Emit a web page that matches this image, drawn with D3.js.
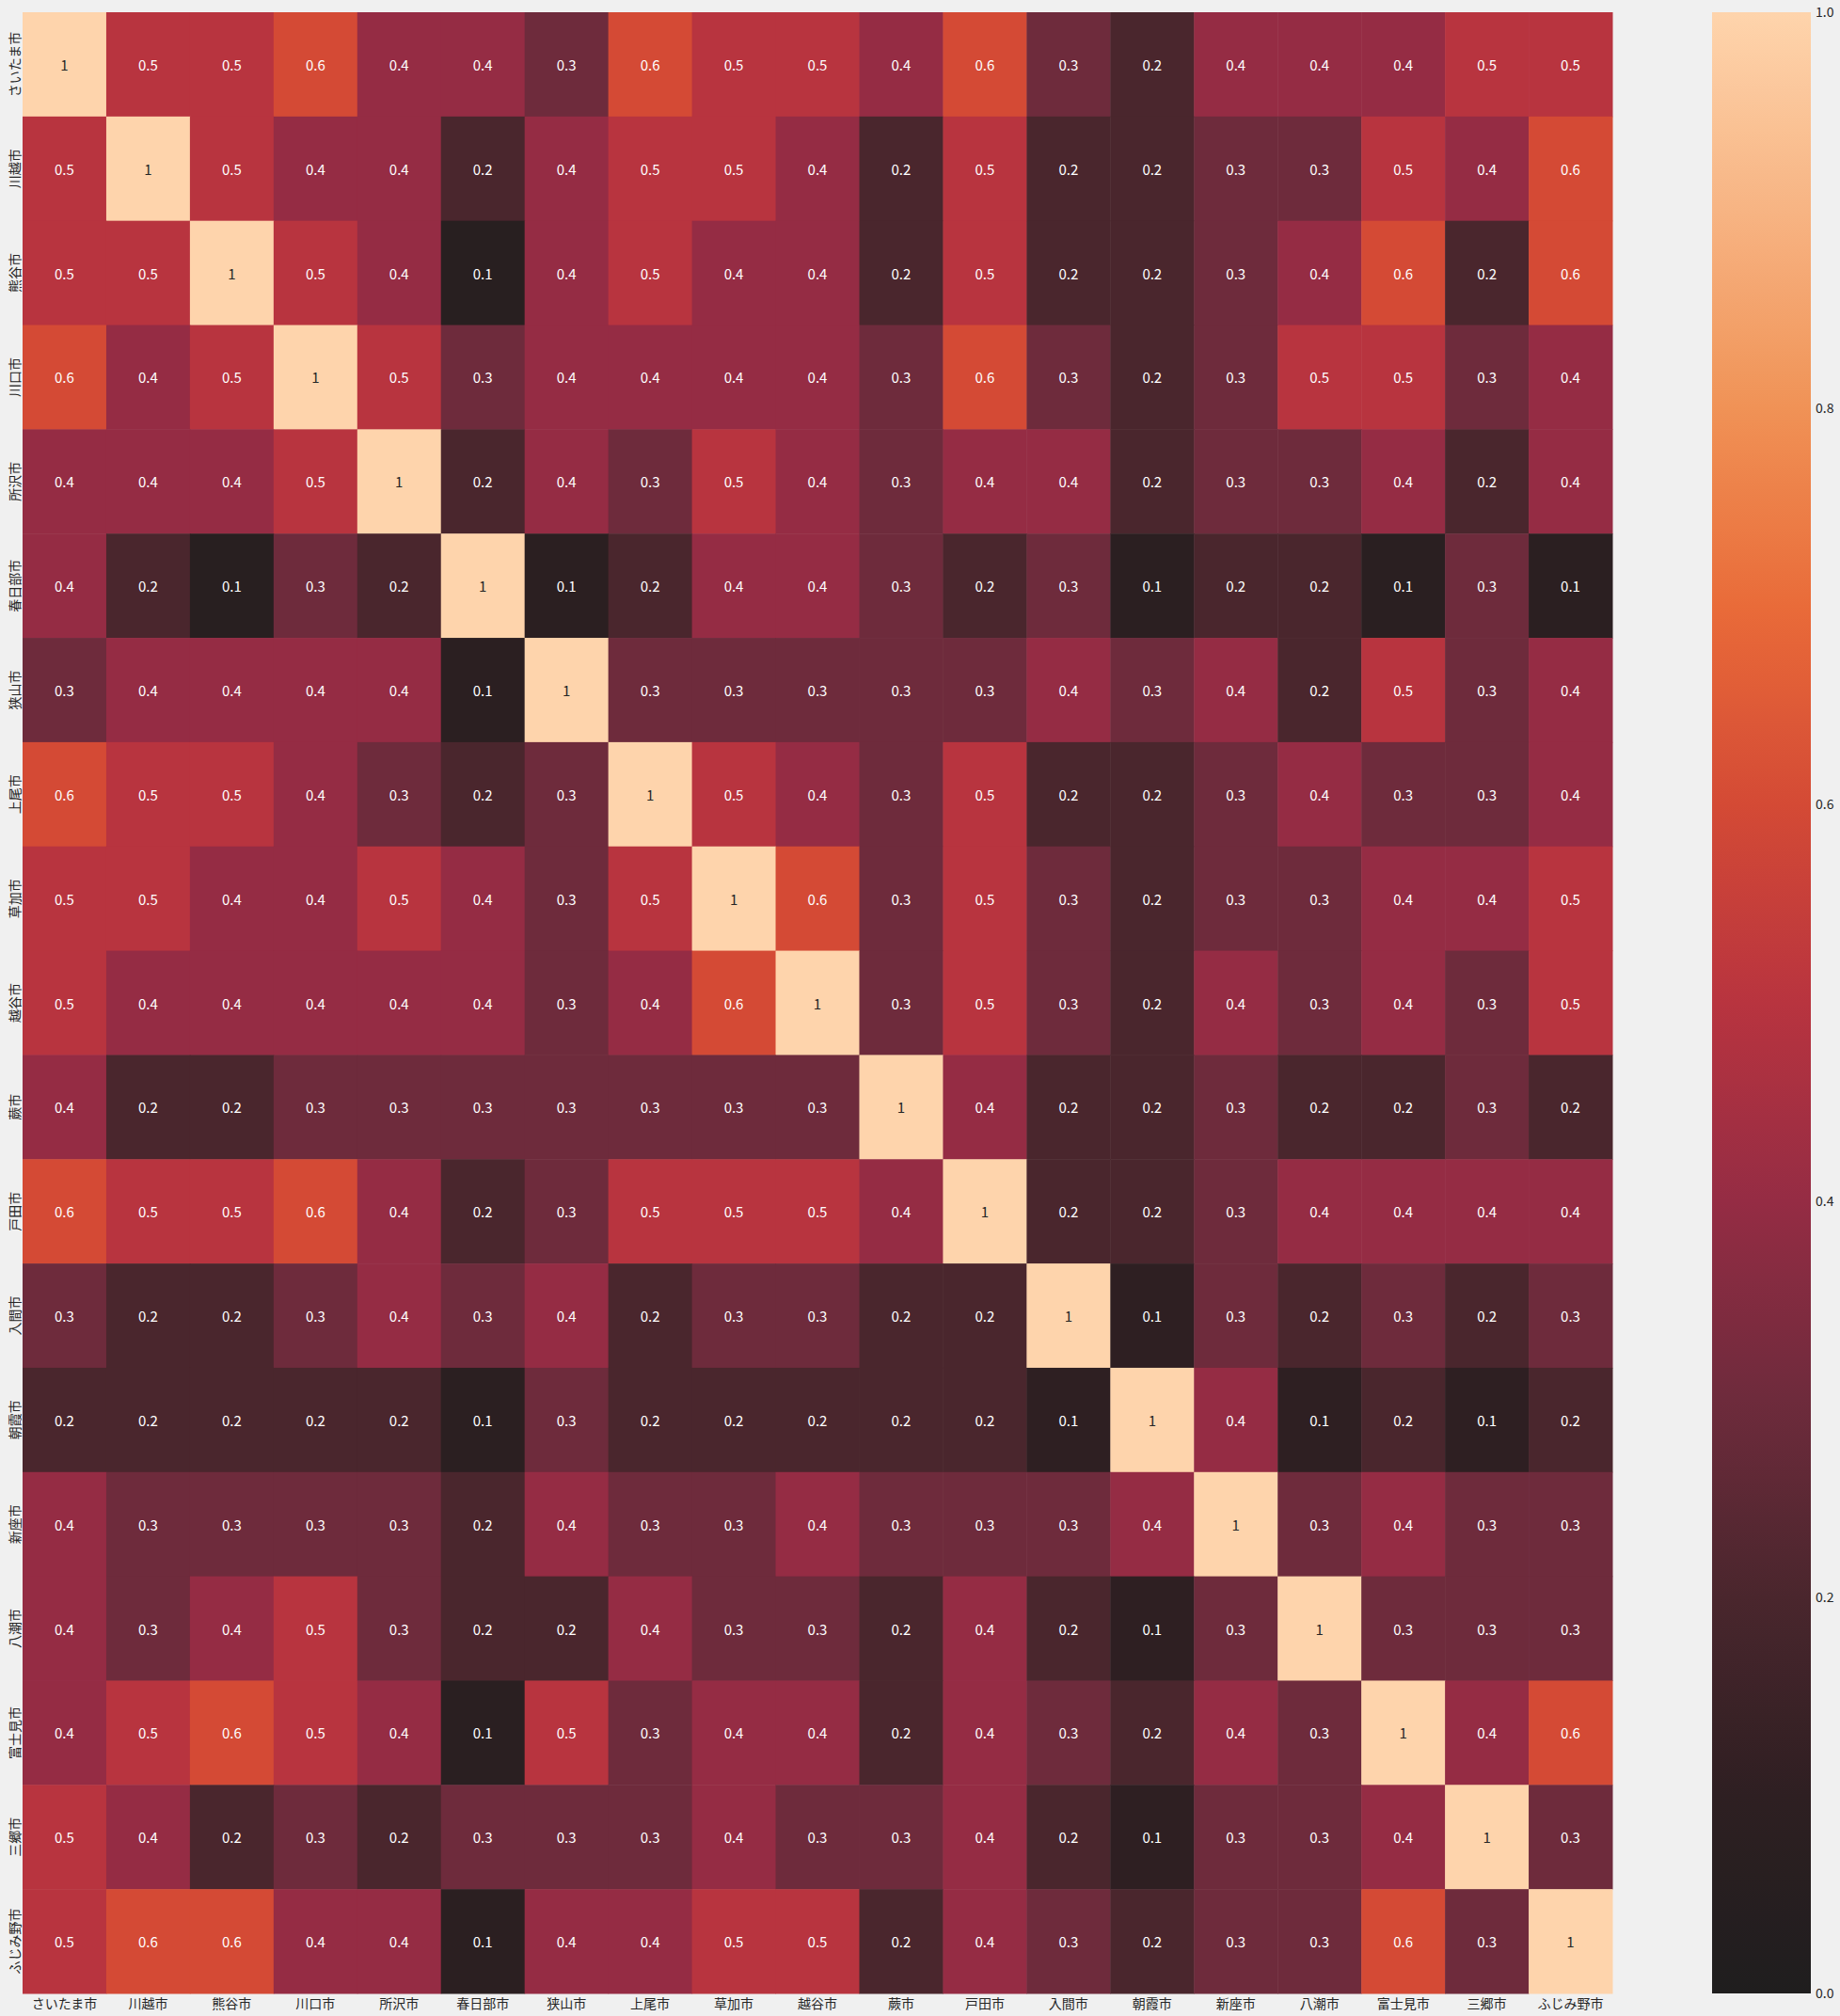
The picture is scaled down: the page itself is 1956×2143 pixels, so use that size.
<!DOCTYPE html>
<html>
<head>
<meta charset="utf-8">
<script src="https://cdn.jsdelivr.net/npm/d3@7"></script>
<style>
  html, body { margin: 0; padding: 0; background: #f0f0f0; }
  svg { display: block; }
  text { font-family: "Noto Sans CJK JP", "Noto Sans", sans-serif; }
</style>
</head>
<body>
<svg id="chart" width="1956" height="2143"></svg>
<script>
const cities = ["さいたま市","川越市","熊谷市","川口市","所沢市","春日部市","狭山市","上尾市","草加市","越谷市","蕨市","戸田市","入間市","朝霞市","新座市","八潮市","富士見市","三郷市","ふじみ野市"];

const r01 = [1,0.5,0.5,0.6,0.4,0.4,0.3,0.6,0.5,0.5,0.4,0.6,0.3,0.2,0.4,0.4,0.4,0.5,0.5];
const r02 = [0.5,1,0.5,0.4,0.4,0.2,0.4,0.5,0.5,0.4,0.2,0.5,0.2,0.2,0.3,0.3,0.5,0.4,0.6];
const r03 = [0.5,0.5,1,0.5,0.4,0.06,0.4,0.5,0.4,0.4,0.2,0.5,0.2,0.2,0.3,0.4,0.6,0.2,0.6];
const r04 = [0.6,0.4,0.5,1,0.5,0.3,0.4,0.4,0.4,0.4,0.3,0.6,0.3,0.2,0.3,0.5,0.5,0.3,0.4];
const r05 = [0.4,0.4,0.4,0.5,1,0.2,0.4,0.3,0.5,0.4,0.3,0.4,0.4,0.2,0.3,0.3,0.4,0.2,0.4];
const r06 = [0.4,0.2,0.06,0.3,0.2,1,0.08,0.2,0.4,0.4,0.3,0.2,0.3,0.08,0.2,0.2,0.07,0.3,0.08];
const r07 = [0.3,0.4,0.4,0.4,0.4,0.08,1,0.3,0.3,0.3,0.3,0.3,0.4,0.3,0.4,0.2,0.5,0.3,0.4];
const r08 = [0.6,0.5,0.5,0.4,0.3,0.2,0.3,1,0.5,0.4,0.3,0.5,0.2,0.2,0.3,0.4,0.3,0.3,0.4];
const r09 = [0.5,0.5,0.4,0.4,0.5,0.4,0.3,0.5,1,0.6,0.3,0.5,0.3,0.2,0.3,0.3,0.4,0.4,0.5];
const r10 = [0.5,0.4,0.4,0.4,0.4,0.4,0.3,0.4,0.6,1,0.3,0.5,0.3,0.2,0.4,0.3,0.4,0.3,0.5];
const r11 = [0.4,0.2,0.2,0.3,0.3,0.3,0.3,0.3,0.3,0.3,1,0.4,0.2,0.2,0.3,0.2,0.2,0.3,0.2];
const r12 = [0.6,0.5,0.5,0.6,0.4,0.2,0.3,0.5,0.5,0.5,0.4,1,0.2,0.2,0.3,0.4,0.4,0.4,0.4];
const r13 = [0.3,0.2,0.2,0.3,0.4,0.3,0.4,0.2,0.3,0.3,0.2,0.2,1,0.1,0.3,0.2,0.3,0.2,0.3];
const r14 = [0.2,0.2,0.2,0.2,0.2,0.08,0.3,0.2,0.2,0.2,0.2,0.2,0.1,1,0.4,0.1,0.2,0.1,0.2];
const r15 = [0.4,0.3,0.3,0.3,0.3,0.2,0.4,0.3,0.3,0.4,0.3,0.3,0.3,0.4,1,0.3,0.4,0.3,0.3];
const r16 = [0.4,0.3,0.4,0.5,0.3,0.2,0.2,0.4,0.3,0.3,0.2,0.4,0.2,0.1,0.3,1,0.3,0.3,0.3];
const r17 = [0.4,0.5,0.6,0.5,0.4,0.07,0.5,0.3,0.4,0.4,0.2,0.4,0.3,0.2,0.4,0.3,1,0.4,0.6];
const r18 = [0.5,0.4,0.2,0.3,0.2,0.3,0.3,0.3,0.4,0.3,0.3,0.4,0.2,0.1,0.3,0.3,0.4,1,0.3];
const r19 = [0.5,0.6,0.6,0.4,0.4,0.08,0.4,0.4,0.5,0.5,0.2,0.4,0.3,0.2,0.3,0.3,0.6,0.3,1];
const matrix = [r01,r02,r03,r04,r05,r06,r07,r08,r09,r10,r11,r12,r13,r14,r15,r16,r17,r18,r19];

const colorbarTicks = [0.0, 0.2, 0.4, 0.6, 0.8, 1.0];

// colormap (upper half of seaborn "icefire")
const cmapStops = [0,0.1,0.2,0.3,0.4,0.5,0.6,0.7,0.8,0.9,1];
const cmapColors = ["#1f1e1e","#2e1f22","#4a262d","#6e2b3c","#952c44","#b8343f","#d44a35","#e96b39","#f09256","#f7b483","#fed4ac"];

const svg = d3.select("#chart");
const heatLeft = 24, heatRight = 1714, heatTop = 13, heatBottom = 2119;

const x = d3.scaleBand().domain(cities).range([heatLeft, heatRight]).padding(0);
const y = d3.scaleBand().domain(cities).range([heatTop, heatBottom]).padding(0);
const color = d3.scaleLinear().domain(cmapStops).range(cmapColors).interpolate(d3.interpolateRgb).clamp(true);

const cells = [];
matrix.forEach((row, i) => row.forEach((v, j) => cells.push({r: cities[i], c: cities[j], v})));

const g = svg.append("g");
g.selectAll("rect").data(cells).join("rect")
  .attr("x", d => x(d.c))
  .attr("y", d => y(d.r))
  .attr("width", x.bandwidth() + 0.5)
  .attr("height", y.bandwidth() + 0.5)
  .attr("fill", d => color(d.v));

function lum(c) {
  const rgb = d3.rgb(c);
  const f = u => { u /= 255; return u <= 0.03928 ? u / 12.92 : Math.pow((u + 0.055) / 1.055, 2.4); };
  return 0.2126 * f(rgb.r) + 0.7152 * f(rgb.g) + 0.0722 * f(rgb.b);
}
const fmt = v => v >= 1 ? "1" : d3.format(".1f")(v);

g.selectAll("text").data(cells).join("text")
  .attr("x", d => x(d.c) + x.bandwidth() / 2)
  .attr("y", d => y(d.r) + y.bandwidth() / 2)
  .attr("text-anchor", "middle")
  .attr("dominant-baseline", "central")
  .attr("font-size", 15)
  .attr("fill", d => lum(color(d.v)) > 0.408 ? "#262626" : "#ffffff")
  .text(d => fmt(d.v));

// x axis labels
const xAxis = d3.axisBottom(x).tickSize(0).tickPadding(0);
const xg = svg.append("g").attr("transform", `translate(0,${heatBottom})`).call(xAxis);
xg.select(".domain").remove();
xg.selectAll("text")
  .attr("y", 11)
  .attr("dy", "0.35em")
  .attr("font-size", 14)
  .attr("fill", "#262626")
  .style("font-family", '"Noto Sans CJK JP", sans-serif');

// y axis labels
const yAxis = d3.axisLeft(y).tickSize(0).tickPadding(0);
const yg = svg.append("g").attr("transform", `translate(${heatLeft},0)`).call(yAxis);
yg.select(".domain").remove();
yg.selectAll("text")
  .attr("x", 0).attr("dy", 0)
  .attr("text-anchor", "middle")
  .attr("dominant-baseline", "central")
  .attr("transform", "translate(-9,0) rotate(-90)")
  .attr("font-size", 14)
  .attr("fill", "#262626")
  .style("font-family", '"Noto Sans CJK JP", sans-serif');

// colorbar
const cbLeft = 1820, cbRight = 1925;
const cbScale = d3.scaleLinear().domain([0, 1]).range([heatBottom, heatTop]);
const defs = svg.append("defs");
const grad = defs.append("linearGradient").attr("id", "cbgrad")
  .attr("x1", 0).attr("y1", 1).attr("x2", 0).attr("y2", 0);
d3.range(0, 1.0001, 0.02).forEach(t => {
  grad.append("stop").attr("offset", t).attr("stop-color", color(t));
});
svg.append("rect")
  .attr("x", cbLeft).attr("y", heatTop)
  .attr("width", cbRight - cbLeft).attr("height", heatBottom - heatTop)
  .attr("fill", "url(#cbgrad)");

const cbAxis = d3.axisRight(cbScale).tickValues(colorbarTicks).tickFormat(d3.format(".1f")).tickSize(0).tickPadding(5);
const cbg = svg.append("g").attr("transform", `translate(${cbRight},0)`).call(cbAxis);
cbg.select(".domain").remove();
cbg.selectAll("text")
  .attr("font-size", 14)
  .attr("fill", "#262626")
  .style("font-family", '"Noto Sans CJK JP", sans-serif');
</script>
</body>
</html>
